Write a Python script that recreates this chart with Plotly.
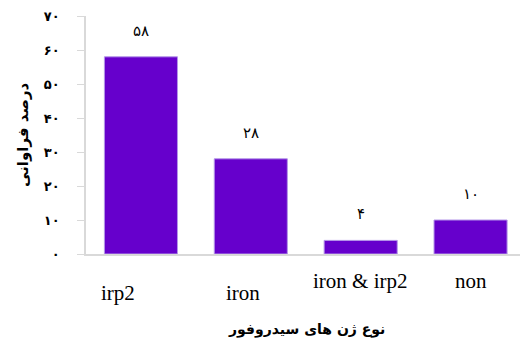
import plotly.graph_objects as go

categories = ["irp2", "iron", "iron & irp2", "non"]
values = [58, 28, 4, 10]
value_labels = ["۵۸", "۲۸", "۴", "۱۰"]
tick_values = [0, 10, 20, 30, 40, 50, 60, 70]
tick_labels = ["۰", "۱۰", "۲۰", "۳۰", "۴۰", "۵۰", "۶۰", "۷۰"]
label_row_shift = [-39, -39, -27, -27]
label_x_shift = [-23, -8, 0, 0]

x_title = "نوع ژن های سیدروفور"
y_title = "درصد فراوانی"

fig = go.Figure()
fig.add_trace(go.Bar(
    x=list(range(len(categories))),
    y=values,
    width=0.665,
    marker=dict(color="#6600CC", line=dict(color="#B596E8", width=1)),
    showlegend=False,
    hoverinfo="skip",
))

annotations = []
for i, (v, lab) in enumerate(zip(values, value_labels)):
    annotations.append(dict(
        x=i, y=v, xref="x", yref="y", text=lab, showarrow=False,
        yshift=26, yanchor="middle",
        font=dict(family="DejaVu Sans", size=15, color="#000000"),
    ))
for i, (c, s, xs) in enumerate(zip(categories, label_row_shift, label_x_shift)):
    annotations.append(dict(
        x=i, y=0, xref="x", yref="paper", text=c, showarrow=False,
        yshift=s, xshift=xs, yanchor="middle",
        font=dict(family="Liberation Serif", size=21, color="#000000"),
    ))
annotations.append(dict(
    x=0.5, y=0, xref="paper", yref="paper", text="<b>" + x_title + "</b>",
    showarrow=False, yshift=-75, yanchor="middle", xshift=3,
    font=dict(family="DejaVu Sans", size=14, color="#000000"),
))
annotations.append(dict(
    x=0, y=0.5, xref="paper", yref="paper", text="<b>" + y_title + "</b>",
    showarrow=False, xshift=-63, xanchor="center", yanchor="middle",
    textangle=-90,
    font=dict(family="DejaVu Sans", size=15, color="#000000"),
))

fig.update_layout(
    width=520, height=343,
    margin=dict(l=86, r=0, t=16, b=89),
    paper_bgcolor="white", plot_bgcolor="white",
    annotations=annotations,
    bargap=0.335,
)
fig.update_xaxes(
    range=[-0.5, 3.45], showticklabels=False, ticks="",
    showline=True, linecolor="#D9D9D9", linewidth=1.5,
    showgrid=False, zeroline=False, fixedrange=True,
)
fig.update_yaxes(
    range=[0, 70], tickvals=tick_values, ticktext=tick_labels,
    ticks="outside", ticklen=7, tickcolor="#D9D9D9", tickwidth=1,
    ticklabelstandoff=15,
    showline=True, linecolor="#D9D9D9", linewidth=1.5,
    showgrid=False, zeroline=False,
    tickfont=dict(family="DejaVu Sans", size=13, color="#000000", weight="bold"),
)

fig.write_html("out.html")
